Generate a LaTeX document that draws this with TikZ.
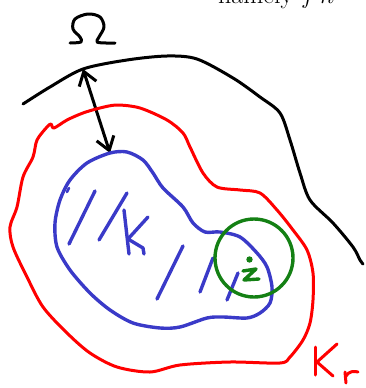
\documentclass[tikz,border=0pt]{standalone}
\usetikzlibrary{arrows.meta}
\definecolor{penblue}{RGB}{58,58,200}
\definecolor{pengreen}{RGB}{20,128,20}
\definecolor{penred}{RGB}{255,0,0}
\tikzset{
  pen/.style={line width=3pt, line cap=round, line join=round},
  blackpen/.style={pen, black},
  redpen/.style={pen, penred},
  bluepen/.style={pen, penblue, line width=3.4pt},
  greenpen/.style={pen, pengreen, line width=3.4pt},
  barb/.style={{Straight Barb[length=13pt,width=18pt,line width=3pt]}-{Straight Barb[length=13pt,width=18pt,line width=3pt]}}
}
\begin{document}
\begin{tikzpicture}[x=1pt,y=-1pt]
\useasboundingbox (0,0) rectangle (366,388);
% clipped title text at top
\begin{scope}
\clip (0,0) rectangle (366,9);
\node[anchor=base west, inner sep=0pt, font=\fontsize{26}{30}\selectfont] (title) at (218,4) {namely $f\,n$};
\end{scope}
% Omega symbol (hand drawn)
\draw[blackpen] plot[smooth, tension=0.55] coordinates {(70,43) (81,42) (80,37) (73,29) (75,19) (88,14) (100,17) (104,27) (99,37) (97,42) (106,43) (115,43)};
% Omega boundary
\draw[blackpen] plot[smooth, tension=0.5] coordinates {(23,104) (50,87) (83,69) (127,60) (167,56) (197,59) (233,78) (260,97) (280,113) (290,140) (300,173) (310,200) (333,223) (353,247) (360,260) (363,264)};
\coordinate (top) at (83,69);
\coordinate (bot) at (110,153);
\draw[blackpen, barb] (top) -- (bot);
% red K_r curve
\draw[redpen] plot[smooth cycle, tension=0.5] coordinates {(100,108) (117,105) (140,108) (167,120) (183,133) (190,147) (203,173) (217,187) (240,190) (260,193) (277,210) (293,230) (307,250) (313,273) (313,300) (310,323) (303,340) (290,357) (280,363) (230,362) (180,365) (150,372) (117,367) (90,353) (67,333) (43,307) (27,277) (13,247) (10,227) (17,207) (23,177) (33,157) (37,140) (47,127) (51,124) (54,128) (67,120) (83,113)};
% blue K curve
\draw[bluepen] plot[smooth cycle, tension=0.5] coordinates {(110,153) (127,152) (143,160) (153,173) (163,188) (183,207) (193,223) (205,232) (220,232) (240,237) (257,253) (267,267) (272,287) (270,303) (260,313) (247,318) (223,317) (207,318) (180,327) (160,328) (133,323) (110,310) (90,293) (70,270) (57,247) (55,223) (60,200) (70,180) (87,163)};
\draw[bluepen, line width=2.5pt] (69,188) -- (67,192);
% hatch lines
\draw[bluepen] (95,191) -- (69,244);
\draw[bluepen] (127,193) -- (99,240);
\draw[bluepen] (124,210) -- (129,254);
\draw[bluepen] (148,217) -- (128,239) -- (143,248) -- (144,254);
\draw[bluepen] (183,246) -- (157,299);
\draw[bluepen] (213,258) -- (200,292);
\draw[bluepen] (238,273) -- (227,300);
% green ball and z
\node[draw=pengreen, line width=3.4pt, circle, minimum size=78pt, inner sep=0pt] (ball) at (254,258) {};
\fill[pengreen] (249.5,259.5) circle (3.2pt);
\draw[greenpen] (243,271) -- (256,269) -- (244,280) -- (259,279);
% K_r label
\draw[redpen] (315,347) -- (315,375);
\draw[redpen] (337,344) -- (317,362) -- (333,376);
\draw[redpen] (345,372) -- (346,383);
\draw[redpen] (346,376) .. controls (349,371) and (354,371) .. (358,372);
\end{tikzpicture}
\end{document}
